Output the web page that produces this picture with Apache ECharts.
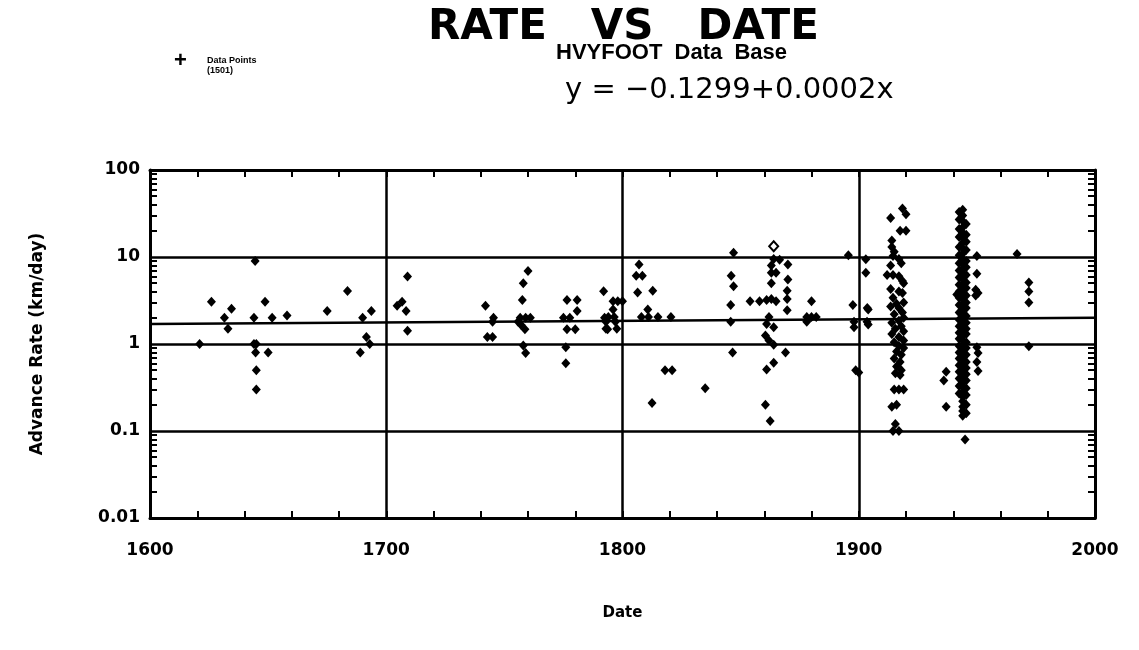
<!DOCTYPE html>
<html>
<head>
<meta charset="utf-8">
<script src="https://cdn.jsdelivr.net/npm/echarts@6/dist/echarts.min.js"></script>
<style>
html,body{margin:0;padding:0;background:#fff;}
#c{width:1139px;height:650px;}
</style>
</head>
<body>
<div id="c"></div>
<script>
// ---- Data ----
const xTickLabels = ['1600','1700','1800','1900','2000'];
const yTickLabels = ['0.01','0.1','1','10','100'];

const early = [
 [1621,1.0],[1626,3.05],[1631.5,2.0],[1633,1.5],[1634.5,2.55],[1644,2.0],[1644,1.0],[1645,1.0],
 [1644.5,9.0],[1644.7,0.8],[1645,0.5],[1645,0.3],[1648.7,3.05],[1650,0.8],[1651.7,2.0],[1658,2.13],
 [1675,2.4],[1683.6,4.07],[1689,0.8],[1690,2.0],[1691.6,1.2],[1693,1.0],[1693.7,2.4],
 [1704.6,2.76],[1706.7,3.05],[1708.4,2.4],[1709,5.97],[1709,1.42],[1742,2.76],[1742.8,1.2],[1745,1.2],
 [1745.4,2.0],[1745,1.8],[1756.7,2.0],[1759,2.0],[1761,2.0],[1755.8,1.8],[1757,1.66],[1758.7,1.48],
 [1757.6,3.2],[1758,5.0],[1760,6.9],[1758,0.96],[1759,0.79],[1775,2.0],[1777.7,2.0],[1776.5,3.2],
 [1780.8,3.2],[1780.8,2.4],[1776.5,1.48],[1780,1.48],[1776,0.92],[1776,0.6]
];
const middle = [
 [1792,4.05],[1792.4,2.0],[1793.7,1.48],[1796,3.1],[1798,3.1],[1800,3.1],[1796,2.5],[1794,2.05],
 [1796.5,2.05],[1793,1.8],[1797,1.8],[1793,1.5],[1797.6,1.5],
 [1807,8.2],[1805.8,6.1],[1808.4,6.1],[1806.4,3.9],[1812.8,4.1],[1810.7,2.5],[1808,2.05],[1811,2.05],
 [1815,2.05],[1820.5,2.05],[1812.5,0.21],[1818,0.5],[1821,0.5],[1835,0.31],
 [1847,11.2],[1846,6.1],[1847,4.6],[1845.8,2.8],[1845.8,1.8],[1846.6,0.8],
 [1854,3.1],[1858,3.1],[1861,3.2],[1863,3.3],[1865,3.1],
 [1864,9.5],[1866.5,9.3],[1863,8.0],[1863,6.6],[1865,6.6],[1863,5.0],[1862,2.05],[1861,1.7],
 [1864,1.56],[1860.5,1.25],[1862,1.1],[1864,0.98],[1864,0.61],[1861,0.51],[1860.5,0.2],[1862.5,0.13],
 [1870,8.2],[1870,5.5],[1869.7,4.1],[1869.7,3.3],[1869.7,2.45],[1869,0.8],
 [1880,3.1],[1878,2.05],[1880,2.05],[1882,2.05],[1878,1.8],
 [1895.6,10.5],[1897.5,2.8],[1898,1.8],[1898,1.56],[1898.7,0.5],[1900,0.47],
 [1903,9.4],[1903,6.6],[1903.6,2.6],[1904,2.5],[1903.5,1.8],[1904,1.68]
];
const ww1 = [
 [1913.5,28],[1918.5,36],[1920,31],[1917.5,20],[1920,20],[1914,15.5],[1914,13],[1915,11.5],[1914.5,10.3],
 [1917,9.5],[1913.5,8],[1918,8.5],[1912,6.2],[1914.5,6.2],[1917,6.0],[1918.5,5.3],[1919,5.0],[1913.5,4.3],
 [1917,4.0],[1918.5,3.85],[1914.5,3.4],[1919,3.0],[1916,2.9],[1913.5,2.7],[1917,2.6],[1918.5,2.3],
 [1915,2.2],[1919,2.0],[1917,1.85],[1914,1.75],[1918,1.6],[1915.5,1.5],[1919,1.4],[1914,1.3],[1917,1.2],
 [1919,1.1],[1915,1.05],[1917,0.95],[1919,0.9],[1916,0.82],[1918,0.75],[1915,0.68],[1917.5,0.62],
 [1916,0.55],[1918,0.5],[1915.5,0.46],[1917.5,0.44],[1915,0.3],[1917,0.3],[1919,0.3],[1914,0.19],
 [1916,0.2],[1915.5,0.12],[1914.5,0.1],[1917,0.1]
];
const ww2Main = [35,30,26,22,19,16.5,14.5,12.5,11,9.5,8.3,7.3,6.4,5.6,4.9,4.3,3.8,3.3,2.9,2.55,2.25,2.0,
 1.8,1.6,1.4,1.25,1.1,0.97,0.86,0.76,0.67,0.59,0.52,0.46,0.41,0.36,0.32,0.28,0.25,0.22,0.19,0.17,0.15];
const ww2Left = [33,27,21,17,13,10.5,8.5,7,5.8,4.8,4.0,3.4,2.8,2.3,1.9,1.6,1.35,1.15,0.95,0.8,0.68,0.57,
 0.48,0.4,0.33,0.27];
const ww2Right = [24,18,15,12,9,7.6,6.2,5.1,4.4,3.6,3.0,2.6,2.1,1.75,1.5,1.3,1.05,0.9,0.75,0.62,0.53,
 0.45,0.38,0.31,0.26,0.2,0.16];
const ww2Years = {main:1944, left:1942.5, right:1945.5};
const late = [
 [1941.5,3.7],[1937,0.48],[1936,0.38],[1937,0.19],[1945,0.08],
 [1950,10.3],[1950,6.4],[1949.5,4.2],[1950.5,3.85],[1949.5,3.6],[1950,0.92],[1950.5,0.79],[1950,0.62],
 [1950.5,0.49],[1967,10.8],[1972,5.1],[1972,4.0],[1972,3.0],[1972,0.94]
];
const hollowPoints = [[1864,13.3]];
const regression = [[1600,1.7],[2000,2.0]];
const equationText = 'y = \u22120.1299+0.0002x';

// ---- Build ----
const pts = [].concat(early, middle, ww1, late,
  ww2Main.map(v=>[ww2Years.main,v]),
  ww2Left.map(v=>[ww2Years.left,v]),
  ww2Right.map(v=>[ww2Years.right,v]));

const minorY = [];
[0.01,0.1,1,10].forEach(d=>{for(let k=2;k<=9;k++) minorY.push(+(d*k).toPrecision(3));});

const FONT = '"Liberation Sans", Arial, sans-serif';
const DJ = '"DejaVu Sans", sans-serif';
const lblY = v => yTickLabels[Math.round(Math.log10(v))+2];

const chart = echarts.init(document.getElementById('c'));
const xCommon = {
  type:'value', min:1600, max:2000, interval:100,
  axisLine:{show:true,lineStyle:{color:'#000',width:3}},
  axisTick:{show:true,inside:true,length:7,lineStyle:{color:'#000',width:2}},
  minorTick:{show:true,splitNumber:5,length:7,lineStyle:{color:'#000',width:2}},
  splitLine:{show:false}
};
const yBase = {type:'log', logBase:10, min:0.01, max:100, splitNumber:4};
const yMinor = Object.assign({}, yBase, {
  axisLine:{show:false},
  axisLabel:{show:false},
  splitLine:{show:false},
  axisTick:{show:true,inside:true,length:7,customValues:minorY,lineStyle:{color:'#000',width:2}}
});
chart.setOption({
  animation:false,
  backgroundColor:'#fff',
  grid:{left:150,right:44,top:170,bottom:132},
  graphic:[
    {type:'text',left:428,top:7,style:{text:'RATE   VS   DATE',font:'bold 42px '+DJ,fill:'#000'}},
    {type:'text',left:556,top:42,style:{text:'HVYFOOT  Data  Base',font:'bold 22px '+FONT,fill:'#000'}},
    {type:'text',left:174,top:50,style:{text:'+',font:'bold 22px '+FONT,fill:'#000'}},
    {type:'text',left:207,top:56,style:{text:'Data Points\n(1501)',font:'bold 9px '+FONT,fill:'#000',lineHeight:10}},
    {type:'text',left:565,top:76,style:{text:equationText,font:'29px '+DJ,fill:'#000'}}
  ],
  xAxis:[
    Object.assign({}, xCommon, {position:'bottom',
      axisLabel:{show:true,margin:24,color:'#000',fontWeight:'bold',fontSize:17,fontFamily:DJ,
        formatter:v=>xTickLabels[Math.round((v-1600)/100)]},
      splitLine:{show:true,lineStyle:{color:'#000',width:2.5}},
      name:'Date',nameLocation:'middle',nameGap:88,
      nameTextStyle:{color:'#000',fontWeight:'bold',fontSize:15,fontFamily:DJ}}),
    Object.assign({}, xCommon, {position:'top',axisLabel:{show:false}})
  ],
  yAxis:[
    Object.assign({}, yBase, {position:'left',
      axisLine:{show:true,lineStyle:{color:'#000',width:3}},
      axisTick:{show:false},
      axisLabel:{show:true,margin:10,color:'#000',fontWeight:'bold',fontSize:17,fontFamily:DJ,formatter:lblY},
      splitLine:{show:true,lineStyle:{color:'#000',width:2.5}},
      name:'Advance Rate (km/day)',nameLocation:'middle',nameGap:104,nameRotate:90,
      nameTextStyle:{color:'#000',fontWeight:'bold',fontSize:17,fontFamily:DJ}}),
    Object.assign({}, yBase, {position:'right',
      axisLine:{show:true,lineStyle:{color:'#000',width:3}},
      axisLabel:{show:false},splitLine:{show:false},
      axisTick:{show:true,inside:true,length:7,customValues:minorY,lineStyle:{color:'#000',width:2}}}),
    Object.assign({}, yMinor, {position:'left',offset:0})
  ],
  series:[
    {type:'line',data:regression,symbol:'none',lineStyle:{color:'#000',width:2.5},silent:true,z:3},
    {type:'scatter',data:pts,symbol:'diamond',symbolSize:[9,10],itemStyle:{color:'#000',opacity:1},z:4},
    {type:'scatter',data:hollowPoints,symbol:'diamond',symbolSize:[9,10],
      itemStyle:{color:'#fff',borderColor:'#000',borderWidth:2,opacity:1},z:4}
  ]
});
</script>
</body>
</html>
